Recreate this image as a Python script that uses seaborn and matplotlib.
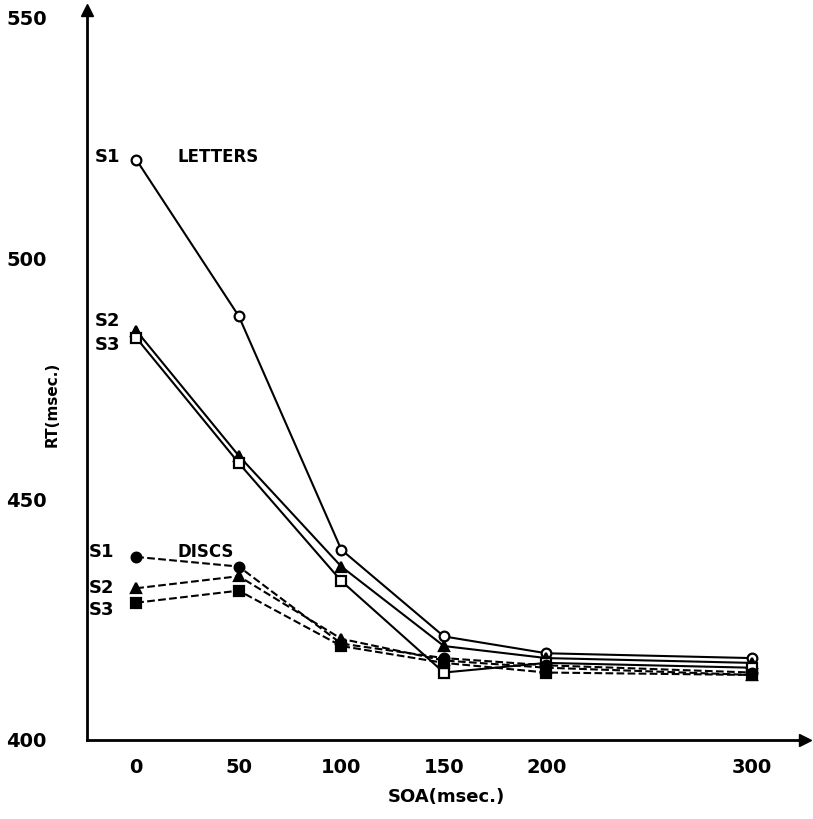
import matplotlib
matplotlib.use("Agg")
from matplotlib import pyplot as plt
import pandas as pd
import seaborn as sns

# ==============================================================================
# DATA
# ==============================================================================
soa = [0, 50, 100, 150, 200, 300]

letters_s1 = [520.5, 488, 439.5, 421.5, 418, 417]
letters_s2 = [485, 459, 436, 419.5, 417, 416]
letters_s3 = [483.5, 457.5, 433, 414, 416, 415]

discs_s1 = [438, 436, 420, 417, 415.5, 414]
discs_s2 = [431.5, 434, 421, 416.5, 415, 413.5]
discs_s3 = [428.5, 431, 419.5, 416, 414, 413.5]

x_ticks = [0, 50, 100, 150, 200, 300]
y_ticks = [400, 450, 500, 550]

# ==============================================================================
# FIGURE
# ==============================================================================
sns.set_style("white")
plt.rcParams['font.family'] = ['DejaVu Sans']
plt.rcParams['text.color'] = 'black'
plt.rcParams['axes.labelcolor'] = 'black'
plt.rcParams['xtick.color'] = 'black'
plt.rcParams['ytick.color'] = 'black'

fig = plt.figure(figsize=(8.13, 8.19), dpi=100)
ax = fig.add_axes([0.107, 0.0965, 0.883, 0.891])

series = [
    (letters_s1, "o", "white", "-"),
    (letters_s2, "^", "black", "-"),
    (letters_s3, "s", "white", "-"),
    (discs_s1, "o", "black", "--"),
    (discs_s2, "^", "black", "--"),
    (discs_s3, "s", "black", "--"),
]

for values, mk, face, ls in series:
    df = pd.DataFrame({"SOA": soa, "RT": values})
    sns.lineplot(
        data=df, x="SOA", y="RT", ax=ax,
        color="black", linewidth=1.5, linestyle=ls,
        marker=mk, markersize=7, markerfacecolor=face,
        markeredgecolor="black", markeredgewidth=1.6,
    )

ax.set_xlim(-24, 326)
ax.set_ylim(400, 551.5)

# axes look: only left / bottom with arrows
for side in ["top", "right"]:
    ax.spines[side].set_visible(False)
for side in ["left", "bottom"]:
    ax.spines[side].set_linewidth(2)
    ax.spines[side].set_color("black")
ax.plot(1, 0, ">k", markersize=8, transform=ax.transAxes, clip_on=False)
ax.plot(0, 1, "^k", markersize=8, transform=ax.transAxes, clip_on=False)

ax.set_xticks(x_ticks)
ax.set_xticklabels([str(t) for t in x_ticks], fontsize=14, fontweight="bold")
ax.set_yticks(y_ticks)
ax.set_yticklabels([str(t) for t in y_ticks], fontsize=14, fontweight="bold")
ax.tick_params(axis="x", direction="inout", length=14, width=1.5, pad=6)
ax.tick_params(axis="y", direction="inout", length=14, width=1.5, pad=22)

ax.set_xlabel("SOA(msec.)", fontsize=13, fontweight="bold", labelpad=8)
ax.set_ylabel("RT(msec.)", fontsize=11, fontweight="bold", labelpad=4)
ax.yaxis.set_label_coords(-0.038, 0.46)

# series labels
lab = dict(fontsize=13, fontweight="bold", va="center", ha="left")
ax.text(-20, 521, "S1", **lab)
ax.text(20, 521, "LETTERS", **dict(lab, fontsize=12))
ax.text(-20, 487, "S2", **lab)
ax.text(-20, 482, "S3", **lab)
ax.text(-23, 439, "S1", **lab)
ax.text(20, 439, "DISCS", **dict(lab, fontsize=12))
ax.text(-23, 431.5, "S2", **lab)
ax.text(-23, 427, "S3", **lab)

fig.savefig("out.png", dpi=100)
